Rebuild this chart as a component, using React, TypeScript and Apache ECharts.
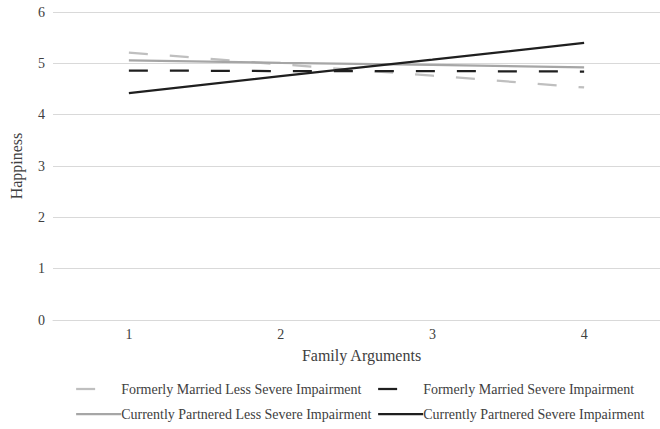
import React, { useEffect, useRef } from "react";
import * as echarts from "echarts";

const categories = ["1", "2", "3", "4"];
const yTicks = [0, 1, 2, 3, 4, 5, 6];
const seriesNames = [
  "Formerly Married Less Severe Impairment",
  "Formerly Married Severe Impairment",
  "Currently Partnered Less Severe Impairment",
  "Currently Partnered Severe Impairment",
];
const fmLess = [5.21, 4.98, 4.76, 4.53];
const fmSevere = [4.86, 4.85, 4.85, 4.84];
const cpLess = [5.06, 5.01, 4.97, 4.92];
const cpSevere = [4.42, 4.75, 5.07, 5.4];

const FONT = "'Liberation Serif', 'Times New Roman', serif";

export default function App() {
  const ref = useRef<HTMLDivElement>(null);
  useEffect(() => {
    if (!ref.current) return;
    const chart = echarts.init(ref.current, undefined, { renderer: "svg" });
    const styles = [
      { color: "#BFBFBF", type: [19, 22] as any, legendType: [19, 40] as any },
      { color: "#1F1F1F", type: [19, 22] as any, legendType: [19, 40] as any },
      { color: "#A6A6A6", type: "solid", legendType: "solid" },
      { color: "#1F1F1F", type: "solid", legendType: "solid" },
    ];
    const dataArr = [fmLess, fmSevere, cpLess, cpSevere];
    const legendPos = [
      { left: 75, top: 382 },
      { left: 377, top: 382 },
      { left: 75, top: 407 },
      { left: 377, top: 407 },
    ];
    const option: any = {
      animation: false,
      textStyle: { fontFamily: FONT },
      grid: { left: 52, right: -9, top: 12, bottom: 109, containLabel: false },
      xAxis: {
        type: "category",
        data: categories,
        boundaryGap: true,
        axisLine: { show: true, lineStyle: { color: "#D9D9D9", width: 1 } },
        axisTick: { show: false },
        axisLabel: { color: "#404040", fontFamily: FONT, fontSize: 14, margin: 7 },
        name: "Family Arguments",
        nameLocation: "middle",
        nameGap: 27,
        nameTextStyle: { color: "#404040", fontFamily: FONT, fontSize: 16, padding: [0, 0, 0, 10] },
      },
      yAxis: {
        type: "value",
        min: 0,
        max: 6,
        interval: 1,
        axisLine: { show: false },
        axisTick: { show: false },
        splitLine: { lineStyle: { color: "#D9D9D9", width: 1 } },
        axisLabel: {
          color: "#404040",
          fontFamily: FONT,
          fontSize: 14,
          margin: 8,
          formatter: (v: number) => (yTicks.includes(v) ? String(v) : ""),
        },
        name: "Happiness",
        nameLocation: "middle",
        nameGap: 29,
        nameRotate: 90,
        nameTextStyle: { color: "#404040", fontFamily: FONT, fontSize: 16 },
      },
      legend: seriesNames.map((n, i) => ({
        data: [n],
        left: legendPos[i].left,
        top: legendPos[i].top,
        itemWidth: 45,
        itemHeight: 14,
        itemGap: 0,
        padding: 0,
        selectedMode: false,
        itemStyle: { color: "transparent", borderColor: "transparent", borderWidth: 0, opacity: 0 },
        lineStyle: { width: 2.25, type: styles[i].legendType, color: styles[i].color, cap: "butt" },
        textStyle: { color: "#404040", fontFamily: FONT, fontSize: 14, padding: [0, 0, 0, -5] },
      })),
      series: seriesNames.map((n, i) => ({
        name: n,
        type: "line",
        data: dataArr[i],
        symbol: "none",
        showSymbol: false,
        itemStyle: { color: styles[i].color },
        lineStyle: { color: styles[i].color, width: 2.25, type: styles[i].type, cap: "butt" },
        silent: true,
      })),
    };
    chart.setOption(option);
    return () => chart.dispose();
  }, []);
  return (
    <div
      ref={ref}
      style={{ position: "fixed", left: 0, top: 0, width: 660, height: 429, background: "#fff" }}
    />
  );
}
